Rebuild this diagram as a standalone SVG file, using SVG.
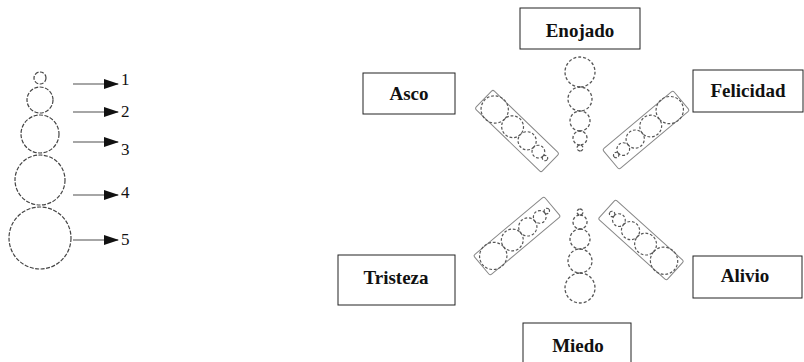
<svg xmlns="http://www.w3.org/2000/svg" xmlns:xlink="http://www.w3.org/1999/xlink" width="804" height="362" viewBox="0 0 804 362">
<style>
.box{fill:#fff;stroke:#222;stroke-width:1}
.lbl{font-family:"Liberation Serif","Times New Roman",serif;font-weight:bold;font-size:19px;fill:#111;text-anchor:middle}
.dig{font-family:"Liberation Serif","Times New Roman",serif;font-size:17px;fill:#111}
.lc{fill:none;stroke:#444;stroke-width:1.2;stroke-dasharray:4 1.5}
.cc{fill:none;stroke:#555;stroke-width:1.3;stroke-dasharray:3 2}
.tray{fill:none;stroke:#888;stroke-width:1}
.arr{stroke:#888;stroke-width:1.5;marker-end:url(#ah)}
</style>
<defs>
<marker id="ah" markerUnits="userSpaceOnUse" markerWidth="16" markerHeight="12" refX="14" refY="5" orient="auto">
<path d="M0,0 L15,5 L0,10 z" fill="#111"/>
</marker>
<g id="chain">
<circle class="cc" cx="0" cy="0" r="15"/>
<circle class="cc" cx="27" cy="0" r="12"/>
<circle class="cc" cx="49" cy="0" r="10"/>
<circle class="cc" cx="66" cy="0" r="7"/>
<circle class="cc" cx="76" cy="0" r="3"/>
</g>
<g id="tray">
<rect class="tray" x="-46" y="-13" width="92" height="26" rx="2"/>
<use xlink:href="#chain" href="#chain" transform="translate(-31,0) scale(0.92,0.9)"/>
</g>
</defs>

<g id="legend">
<circle class="lc" cx="40" cy="78" r="6"/>
<circle class="lc" cx="40" cy="100" r="13"/>
<circle class="lc" cx="40" cy="134" r="19"/>
<circle class="lc" cx="40" cy="180" r="25"/>
<circle class="lc" cx="40" cy="238" r="31"/>
</g>
<g id="connectors">
<line class="arr" x1="73" y1="84" x2="118" y2="84"/>
<line class="arr" x1="73" y1="112" x2="118" y2="112"/>
<line class="arr" x1="73" y1="142" x2="118" y2="142"/>
<line class="arr" x1="73" y1="195" x2="118" y2="195"/>
<line class="arr" x1="73" y1="240" x2="118" y2="240"/>
</g>
<g id="digits">
<text class="dig" x="121" y="85">1</text>
<text class="dig" x="121" y="117">2</text>
<text class="dig" x="121" y="155">3</text>
<text class="dig" x="121" y="198">4</text>
<text class="dig" x="121" y="245">5</text>
</g>

<g id="chains">
<use xlink:href="#chain" href="#chain" transform="translate(580,72) rotate(90)"/>
<use xlink:href="#chain" href="#chain" transform="translate(580,288) rotate(-90)"/>
<use xlink:href="#tray" href="#tray" transform="translate(517,131) rotate(44)"/>
<use xlink:href="#tray" href="#tray" transform="translate(646,130) rotate(140)"/>
<use xlink:href="#tray" href="#tray" transform="translate(517,236) rotate(-40)"/>
<use xlink:href="#tray" href="#tray" transform="translate(641,240) rotate(-138)"/>
</g>

<g id="enojado"><rect class="box" x="520" y="8" width="120" height="41"/><text class="lbl" x="580" y="37">Enojado</text></g>
<g id="asco"><rect class="box" x="363" y="73" width="92" height="41"/><text class="lbl" x="409" y="100">Asco</text></g>
<g id="felicidad"><rect class="box" x="693" y="70" width="110" height="42"/><text class="lbl" x="748" y="97">Felicidad</text></g>
<g id="tristeza"><rect class="box" x="338" y="255" width="117" height="50"/><text class="lbl" x="396" y="284">Tristeza</text></g>
<g id="alivio"><rect class="box" x="693" y="256" width="109" height="42"/><text class="lbl" x="745" y="282">Alivio</text></g>
<g id="miedo"><rect class="box" x="523" y="323" width="108" height="44"/><text class="lbl" x="578" y="352">Miedo</text></g>
</svg>
